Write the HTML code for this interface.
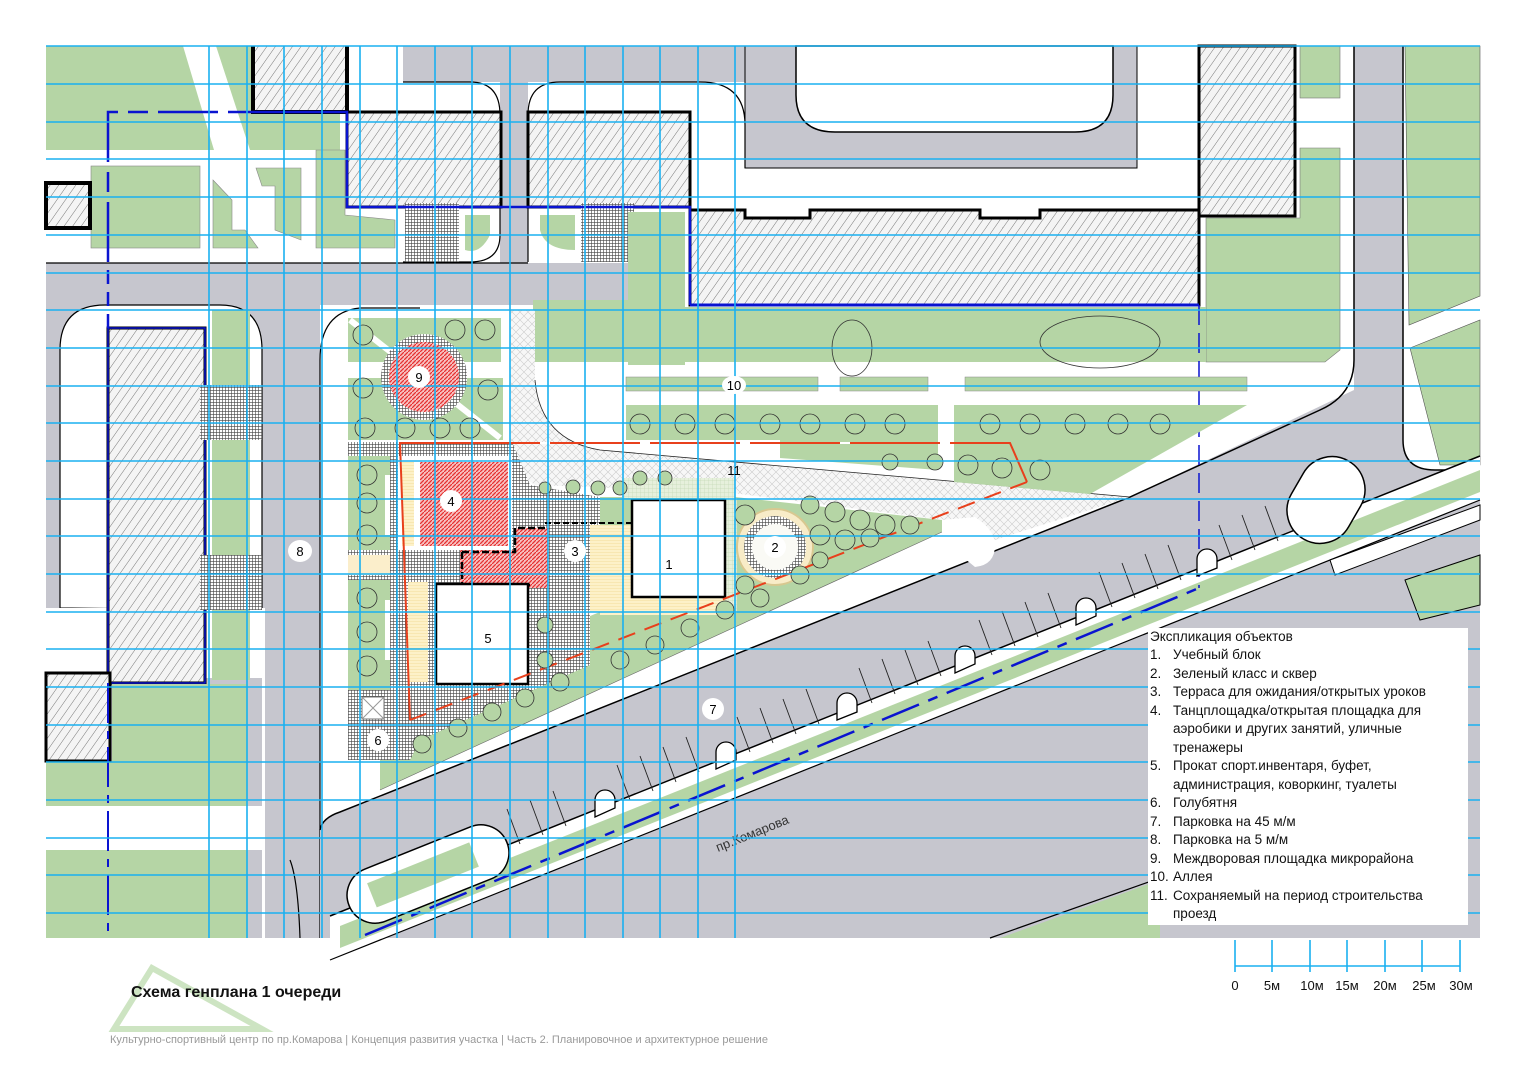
<!DOCTYPE html>
<html><head><meta charset="utf-8"><style>
html,body{margin:0;padding:0;background:#fff;width:1526px;height:1080px;overflow:hidden}
svg{display:block}
text{font-family:"Liberation Sans","DejaVu Sans",sans-serif}
</style></head><body>
<svg width="1526" height="1080" viewBox="0 0 1526 1080" xmlns="http://www.w3.org/2000/svg">
<defs>
<pattern id="hatch" width="7" height="7" patternUnits="userSpaceOnUse" patternTransform="rotate(35)">
<rect width="7" height="7" fill="#f4f4f4"/><line x1="0" y1="0" x2="0" y2="7" stroke="#777" stroke-width="1"/></pattern>
<pattern id="pave" width="3" height="3" patternUnits="userSpaceOnUse">
<rect width="3" height="3" fill="#fff"/><path d="M0 0H3M0 0V3" stroke="#444" stroke-width="1.2"/></pattern>
<pattern id="lite" width="8" height="8" patternUnits="userSpaceOnUse">
<rect width="8" height="8" fill="#f7f7f7"/><path d="M0 0L8 8M8 0L0 8" stroke="#ccc" stroke-width="0.6"/></pattern>
<pattern id="red" width="4" height="4" patternUnits="userSpaceOnUse">
<rect width="4" height="4" fill="#f7c0c0"/><path d="M0 4L4 0" stroke="#e53030" stroke-width="1.3"/></pattern>
<pattern id="yel" width="3" height="3" patternUnits="userSpaceOnUse">
<rect width="3" height="3" fill="#fdf1c8"/><path d="M0 0H3" stroke="#f0d890" stroke-width="0.8"/></pattern>
<pattern id="lgreen" width="4" height="4" patternUnits="userSpaceOnUse">
<rect width="4" height="4" fill="#e6f0dc"/><path d="M0 0H4M0 0V4" stroke="#c5dab8" stroke-width="0.7"/></pattern>
</defs>

<rect x="46" y="46" width="1434" height="892" fill="#fff"/>

<!-- ===== TOP LEFT ===== -->
<polygon points="46,46 183,46 214,150 46,150" fill="#b5d5a5"/>
<polygon points="216,46 253,46 253,112 340,112 340,150 250,150" fill="#b5d5a5"/>
<rect x="91" y="166" width="109" height="82" fill="#b5d5a5" stroke="#888" stroke-width="0.6"/>
<polygon points="213,180 232,200 232,230 245,230 258,248 213,248" fill="#b5d5a5" stroke="#888" stroke-width="0.6"/>
<polygon points="256,168 301,168 301,240 275,230 275,186 262,186" fill="#b5d5a5" stroke="#888" stroke-width="0.6"/>
<polygon points="316,150 345,150 345,215 395,220 395,248 316,248" fill="#b5d5a5" stroke="#888" stroke-width="0.6"/>
<rect x="46" y="183" width="44" height="45" fill="url(#hatch)" stroke="#000" stroke-width="4"/>
<path d="M253 46 V112 H347 V46" fill="url(#hatch)" stroke="#000" stroke-width="4"/>

<rect x="403" y="46" width="734" height="36" fill="#c6c6ce"/>
<rect x="745" y="46" width="392" height="122" fill="#c6c6ce" stroke="#000" stroke-width="1"/>
<path d="M796 46 H1113 V95 Q1113 132 1075 132 H835 Q796 132 796 95Z" fill="#fff" stroke="#000" stroke-width="1.5"/>
<rect x="500" y="82" width="28" height="182" fill="#c6c6ce"/>
<path d="M403 82 H470 Q500 82 500 115 V235 Q500 262 470 262 H403" fill="#fff" stroke="#000" stroke-width="1.2"/>
<path d="M560 82 H700 Q745 82 745 125 V168" fill="none" stroke="#000" stroke-width="1.2"/>
<path d="M528 262 V115 Q528 82 560 82" fill="none" stroke="#000" stroke-width="1.2"/>
<rect x="347" y="112" width="154" height="95" fill="url(#hatch)" stroke="#000" stroke-width="3"/>
<rect x="528" y="112" width="162" height="95" fill="url(#hatch)" stroke="#000" stroke-width="3"/>
<rect x="405" y="203" width="54" height="59" fill="url(#pave)"/>
<rect x="581" y="203" width="53" height="59" fill="url(#pave)"/>
<path d="M540 215 H575 V250 Q545 250 540 230Z" fill="#b5d5a5"/>
<path d="M465 215 H490 V235 Q480 255 465 250Z" fill="#b5d5a5"/>

<rect x="46" y="263" width="582" height="42" fill="#c6c6ce"/>
<line x1="46" y1="263" x2="528" y2="263" stroke="#000" stroke-width="1.2"/>

<rect x="1199" y="46" width="96" height="170" fill="url(#hatch)" stroke="#000" stroke-width="3"/>
<rect x="1300" y="46" width="40" height="52" fill="#b5d5a5" stroke="#777" stroke-width="0.6"/>
<polygon points="1206,218 1300,218 1300,148 1340,148 1340,350 1325,362 1206,362" fill="#b5d5a5" stroke="#777" stroke-width="0.6"/>
<polygon points="1405,46 1480,46 1480,296 1409,325" fill="#b5d5a5" stroke="#555" stroke-width="0.6"/>
<polygon points="1410,348 1480,320 1480,465 1440,465 Q1412 460 1410 430Z" fill="#b5d5a5" stroke="#555" stroke-width="0.6"/>

<polygon points="628,212 685,212 685,365 628,365" fill="#b5d5a5"/>
<polygon points="682,307 1206,307 1206,362 682,362" fill="#b5d5a5"/>
<rect x="533" y="300" width="95" height="62" fill="#b5d5a5"/>
<path d="M690 210 H745 V218 H810 V210 H980 V218 H1040 V210 H1199 V305 H690Z" fill="url(#hatch)" stroke="#000" stroke-width="3"/>
<line x1="690" y1="305" x2="1199" y2="305" stroke="#0a14d0" stroke-width="3"/>
<ellipse cx="1100" cy="342" rx="60" ry="26" fill="none" stroke="#333" stroke-width="0.8"/>
<ellipse cx="852" cy="348" rx="20" ry="28" fill="none" stroke="#333" stroke-width="0.8"/>

<!-- ===== LEFT ===== -->
<rect x="46" y="305" width="274" height="633" fill="#c6c6ce"/>
<path d="M60 608 V350 Q60 305 105 305 H220 Q262 305 262 350 V610 Z" fill="#fff" stroke="#000" stroke-width="1.2"/>
<rect x="46" y="608" width="216" height="70" fill="#fff"/>
<rect x="262" y="608" width="3" height="330" fill="#fff"/>
<rect x="212" y="310" width="38" height="370" fill="#b5d5a5"/>
<rect x="108" y="328" width="97" height="355" fill="url(#hatch)" stroke="#000" stroke-width="3"/>
<rect x="108" y="328" width="97" height="355" fill="none" stroke="#0a14d0" stroke-width="1.5"/>
<rect x="200" y="385" width="62" height="55" fill="url(#pave)"/>
<rect x="200" y="555" width="62" height="55" fill="url(#pave)"/>
<rect x="46" y="673" width="64" height="88" fill="url(#hatch)" stroke="#000" stroke-width="3"/>
<rect x="112" y="684" width="136" height="122" fill="#b5d5a5"/>
<rect x="46" y="762" width="66" height="44" fill="#b5d5a5"/>
<rect x="46" y="806" width="216" height="44" fill="#fff"/>
<rect x="46" y="850" width="202" height="88" fill="#b5d5a5"/>
<path d="M265 938 V760 Q300 800 305 860 V938Z" fill="#c6c6ce"/>
<path d="M290 860 Q298 880 300 938" fill="none" stroke="#000" stroke-width="1.2"/>
<line x1="108" y1="683" x2="108" y2="938" stroke="#0a14d0" stroke-width="2" stroke-dasharray="40,8,8,8"/>

<!-- ===== SITE WHITE & DIAGONAL ===== -->
<path d="M320 938 V360 Q320 312 360 308 H420" fill="none" stroke="#000" stroke-width="1.2"/>
<path d="M320 938 L320 830 Q322 818 340 812 L1130 497 L1354 390 V46 H1403 V440 Q1403 470 1435 470 H1480 V938 Z" fill="#c6c6ce"/>
<path d="M320 830 Q322 818 340 812 L1130 497 L1320 410 Q1354 395 1354 360 V46" fill="none" stroke="#000" stroke-width="1.5"/>
<path d="M1403 46 V440 Q1403 470 1435 470 H1480" fill="none" stroke="#000" stroke-width="1.5"/>

<polygon points="330,916 1480,456 1480,500 330,960" fill="#fff"/>
<polygon points="340,926 1480,470 1480,492 340,948" fill="#b5d5a5"/>
<line x1="330" y1="916" x2="1480" y2="456" stroke="#000" stroke-width="1.5"/>
<line x1="330" y1="960" x2="1480" y2="500" stroke="#000" stroke-width="1.2"/>
<line x1="365" y1="935" x2="1199" y2="588" stroke="#0a14d0" stroke-width="2.5" stroke-dasharray="40,10,10,10"/>
<line x1="1199" y1="305" x2="1199" y2="588" stroke="#0a14d0" stroke-width="1.5" stroke-dasharray="20,8"/>
<g transform="translate(428,874) rotate(-21.8)"><rect x="-85" y="-28" width="170" height="56" rx="28" fill="#fff" stroke="#000" stroke-width="1.5"/><rect x="-60" y="-14" width="110" height="26" fill="#b5d5a5"/></g>
<g transform="translate(1326,500) rotate(-60)"><rect x="-45" y="-33" width="90" height="66" rx="33" fill="#fff" stroke="#000" stroke-width="1.5"/></g>
<g fill="#fff" stroke="#000" stroke-width="1.3">
<path d="M595 817 V800 a10 10 0 0 1 20 0 V808Z"/>
<path d="M716 769 V752 a10 10 0 0 1 20 0 V760Z"/>
<path d="M837 720 V703 a10 10 0 0 1 20 0 V712Z"/>
<path d="M955 673 V656 a10 10 0 0 1 20 0 V664Z"/>
<path d="M1076 625 V608 a10 10 0 0 1 20 0 V616Z"/>
<path d="M1197 576 V559 a10 10 0 0 1 20 0 V568Z"/>
</g>
<g stroke="#222" stroke-width="0.9">
<line x1="520" y1="844" x2="507" y2="809"/><line x1="543" y1="835" x2="530" y2="800"/><line x1="566" y1="826" x2="553" y2="791"/>
<line x1="630" y1="800" x2="617" y2="765"/><line x1="653" y1="791" x2="640" y2="756"/><line x1="676" y1="782" x2="663" y2="747"/><line x1="699" y1="772" x2="686" y2="737"/>
<line x1="750" y1="752" x2="737" y2="717"/><line x1="773" y1="743" x2="760" y2="708"/><line x1="796" y1="734" x2="783" y2="699"/><line x1="819" y1="724" x2="806" y2="689"/>
<line x1="872" y1="703" x2="859" y2="668"/><line x1="895" y1="694" x2="882" y2="659"/><line x1="918" y1="685" x2="905" y2="650"/><line x1="941" y1="676" x2="928" y2="641"/>
<line x1="992" y1="655" x2="979" y2="620"/><line x1="1015" y1="646" x2="1002" y2="611"/><line x1="1038" y1="637" x2="1025" y2="602"/><line x1="1061" y1="628" x2="1048" y2="593"/>
<line x1="1112" y1="607" x2="1099" y2="572"/><line x1="1135" y1="598" x2="1122" y2="563"/><line x1="1158" y1="589" x2="1145" y2="554"/><line x1="1181" y1="580" x2="1168" y2="545"/>
<line x1="1232" y1="560" x2="1219" y2="525"/><line x1="1255" y1="550" x2="1242" y2="515"/><line x1="1278" y1="541" x2="1265" y2="506"/>
</g>
<text x="0" y="0" font-size="13" fill="#333" transform="translate(718,852) rotate(-22)">пр.Комарова</text>

<polygon points="1330,560 1480,505 1480,520 1335,575" fill="#fff" stroke="#000" stroke-width="1"/>
<polygon points="1405,580 1480,555 1480,605 1420,620" fill="#b5d5a5" stroke="#000" stroke-width="1"/>
<polygon points="1000,938 1160,880 1160,938" fill="#b5d5a5"/>
<line x1="990" y1="938" x2="1160" y2="878" stroke="#000" stroke-width="1.2"/>

<!-- ===== SITE ===== -->
<path d="M510 310 H535 V380 Q540 440 600 450 L1130 497 L995 540 L945 520 L725 492 L535 485 Q512 470 510 440 Z" fill="url(#lite)"/>
<path d="M535 380 Q540 440 600 450 L1130 497" fill="none" stroke="#222" stroke-width="0.8"/>
<rect x="348" y="318" width="153" height="44" fill="#b5d5a5"/>
<rect x="348" y="378" width="155" height="62" fill="#b5d5a5"/>
<line x1="350" y1="320" x2="500" y2="438" stroke="#fff" stroke-width="6"/>
<circle cx="424" cy="377" r="43" fill="url(#pave)"/>
<circle cx="424" cy="377" r="35" fill="url(#red)"/>
<rect x="626" y="377" width="192" height="14" fill="#b5d5a5" stroke="#888" stroke-width="0.5"/>
<rect x="840" y="377" width="88" height="14" fill="#b5d5a5" stroke="#888" stroke-width="0.5"/>
<rect x="965" y="377" width="282" height="14" fill="#b5d5a5" stroke="#888" stroke-width="0.5"/>
<path d="M626 405 H938 V470 L780 458 V440 H626Z" fill="#b5d5a5"/>
<polygon points="954,405 1247,405 1090,494 954,482" fill="#b5d5a5"/>
<!-- green wedge -->
<polygon points="380,790 942,532 942,520 735,497 600,497 600,612 380,700" fill="#b5d5a5"/>
<line x1="380" y1="790" x2="942" y2="532" stroke="#666" stroke-width="0.6"/>
<!-- paving -->
<polygon points="348,442 512,442 530,485 600,497 600,612 590,612 590,665 420,740 410,760 348,760" fill="url(#pave)"/>
<rect x="348" y="456" width="42" height="94" fill="#b5d5a5"/>
<rect x="348" y="580" width="42" height="110" fill="#b5d5a5"/>
<rect x="348" y="555" width="42" height="20" fill="#fbeecb"/>
<rect x="385" y="475" width="5" height="60" fill="#fff"/>
<rect x="385" y="600" width="5" height="60" fill="#fff"/>
<rect x="398" y="456" width="114" height="94" fill="#fff"/>
<rect x="420" y="462" width="88" height="84" fill="url(#red)"/>
<rect x="402" y="462" width="12" height="84" fill="url(#yel)"/>
<rect x="408" y="582" width="20" height="100" fill="url(#yel)"/>
<path d="M460 550 H515 V528 H548 V588 H460Z" fill="url(#red)"/>
<path d="M462 552 H515 V528 H545 M462 552 V585 H530" fill="none" stroke="#000" stroke-width="2.5" stroke-dasharray="7,3"/>
<rect x="590" y="525" width="42" height="87" fill="url(#yel)"/>
<rect x="600" y="597" width="125" height="18" fill="url(#yel)"/>
<path d="M545 523 H632" stroke="#000" stroke-width="2" stroke-dasharray="6,3"/>
<rect x="622" y="478" width="113" height="20" fill="url(#lgreen)"/>
<rect x="725" y="498" width="12" height="115" fill="url(#lgreen)"/>
<rect x="632" y="500" width="93" height="97" fill="#fff" stroke="#000" stroke-width="2.5"/>
<rect x="436" y="584" width="92" height="100" fill="#fff" stroke="#000" stroke-width="2.5"/>
<rect x="362" y="697" width="22" height="22" fill="#fff" stroke="#777"/>
<path d="M362 697 L384 719 M384 697 L362 719" stroke="#999"/>
<circle cx="775" cy="547" r="38" fill="#f8ecc8" stroke="#d8c890" stroke-width="2"/>
<circle cx="775" cy="547" r="31" fill="url(#pave)"/>
<circle cx="775" cy="547" r="23" fill="#fafaf5"/>
<path d="M942 520 L975 517 Q995 530 995 545 Q995 565 975 567 L942 540Z" fill="#fff"/>

<path d="M410 720 L400 443 H1010 L1027 482" fill="none" stroke="#e8401c" stroke-width="2"/>
<line x1="510" y1="443" x2="1010" y2="443" stroke="#fff" stroke-width="2" stroke-dasharray="0,30,10,60"/>
<path d="M1027 482 L410 720" fill="none" stroke="#e8401c" stroke-width="2" stroke-dasharray="18,10"/>

<g fill="#b5d5a5" stroke="#333" stroke-width="0.8">
<circle cx="363" cy="335" r="10"/><circle cx="455" cy="330" r="10"/><circle cx="485" cy="330" r="10"/>
<circle cx="363" cy="388" r="10"/><circle cx="488" cy="390" r="10"/>
<circle cx="365" cy="428" r="10"/><circle cx="405" cy="428" r="10"/><circle cx="440" cy="428" r="10"/><circle cx="470" cy="428" r="10"/>
<circle cx="367" cy="475" r="10"/><circle cx="367" cy="503" r="10"/><circle cx="367" cy="535" r="10"/>
<circle cx="367" cy="598" r="10"/><circle cx="367" cy="632" r="10"/><circle cx="367" cy="666" r="10"/>
<circle cx="640" cy="424" r="10"/><circle cx="685" cy="424" r="10"/><circle cx="725" cy="424" r="10"/><circle cx="770" cy="424" r="10"/><circle cx="810" cy="424" r="10"/><circle cx="855" cy="424" r="10"/><circle cx="895" cy="424" r="10"/>
<circle cx="990" cy="424" r="10"/><circle cx="1030" cy="424" r="10"/><circle cx="1075" cy="424" r="10"/><circle cx="1118" cy="424" r="10"/><circle cx="1160" cy="424" r="10"/>
<circle cx="890" cy="462" r="8"/><circle cx="935" cy="462" r="8"/><circle cx="968" cy="465" r="10"/><circle cx="1002" cy="468" r="10"/><circle cx="1040" cy="470" r="10"/>
<circle cx="745" cy="515" r="10"/><circle cx="810" cy="505" r="9"/><circle cx="835" cy="512" r="10"/><circle cx="860" cy="520" r="10"/><circle cx="885" cy="525" r="10"/><circle cx="910" cy="525" r="9"/>
<circle cx="820" cy="535" r="10"/><circle cx="845" cy="540" r="10"/><circle cx="870" cy="538" r="9"/>
<circle cx="745" cy="585" r="9"/><circle cx="760" cy="598" r="9"/><circle cx="800" cy="575" r="9"/><circle cx="820" cy="560" r="8"/>
<circle cx="725" cy="610" r="9"/><circle cx="690" cy="628" r="9"/><circle cx="655" cy="645" r="9"/><circle cx="620" cy="660" r="9"/>
<circle cx="560" cy="682" r="9"/><circle cx="525" cy="698" r="9"/><circle cx="492" cy="712" r="9"/><circle cx="458" cy="728" r="9"/><circle cx="422" cy="744" r="9"/>
<circle cx="545" cy="488" r="6"/><circle cx="573" cy="487" r="7"/><circle cx="598" cy="488" r="7"/><circle cx="620" cy="488" r="7"/><circle cx="640" cy="478" r="7"/><circle cx="665" cy="478" r="7"/>
<circle cx="545" cy="625" r="8"/><circle cx="545" cy="660" r="8"/>
</g>

<g fill="none" stroke="#0a14d0" stroke-width="2.5">
<path d="M108 262 V112 H248" stroke-dasharray="60,10,20,10"/>
<path d="M248 112 H347 V207 H690 V305" />
<path d="M108 328 V262" stroke-dasharray="14,8"/>
</g>

<!-- ===== GRID ===== -->
<g stroke="#1ab0f0" stroke-width="1.6">
<line x1="46" y1="46" x2="1480" y2="46"/><line x1="46" y1="84" x2="1480" y2="84"/><line x1="46" y1="122" x2="1480" y2="122"/><line x1="46" y1="159" x2="1480" y2="159"/><line x1="46" y1="197" x2="1480" y2="197"/><line x1="46" y1="235" x2="1480" y2="235"/><line x1="46" y1="273" x2="1480" y2="273"/><line x1="46" y1="310" x2="1480" y2="310"/><line x1="46" y1="348" x2="1480" y2="348"/><line x1="46" y1="386" x2="1480" y2="386"/><line x1="46" y1="423" x2="1480" y2="423"/><line x1="46" y1="461" x2="1480" y2="461"/><line x1="46" y1="499" x2="1480" y2="499"/><line x1="46" y1="536" x2="1480" y2="536"/><line x1="46" y1="574" x2="1480" y2="574"/><line x1="46" y1="612" x2="1480" y2="612"/><line x1="46" y1="649" x2="1480" y2="649"/><line x1="46" y1="687" x2="1480" y2="687"/><line x1="46" y1="725" x2="1480" y2="725"/><line x1="46" y1="762" x2="1480" y2="762"/><line x1="46" y1="800" x2="1480" y2="800"/><line x1="46" y1="838" x2="1480" y2="838"/><line x1="46" y1="875" x2="1480" y2="875"/><line x1="46" y1="913" x2="1480" y2="913"/>
<line x1="209" y1="46" x2="209" y2="938"/><line x1="247" y1="46" x2="247" y2="938"/><line x1="284" y1="46" x2="284" y2="938"/><line x1="322" y1="46" x2="322" y2="938"/><line x1="360" y1="46" x2="360" y2="938"/><line x1="397" y1="46" x2="397" y2="938"/><line x1="435" y1="46" x2="435" y2="938"/><line x1="472" y1="46" x2="472" y2="938"/><line x1="510" y1="46" x2="510" y2="938"/><line x1="548" y1="46" x2="548" y2="938"/><line x1="585" y1="46" x2="585" y2="938"/><line x1="623" y1="46" x2="623" y2="938"/><line x1="660" y1="46" x2="660" y2="938"/><line x1="698" y1="46" x2="698" y2="938"/><line x1="735" y1="46" x2="735" y2="938"/>
</g>

<g font-size="13" text-anchor="middle" fill="#000">
<ellipse cx="419" cy="377" rx="11" ry="11" fill="#fff"/><text x="419" y="382">9</text>
<ellipse cx="451" cy="501" rx="11" ry="11" fill="#fff"/><text x="451" y="506">4</text>
<ellipse cx="575" cy="551" rx="11" ry="11" fill="#fff"/><text x="575" y="556">3</text>
<text x="669" y="569">1</text>
<ellipse cx="775" cy="547" rx="11" ry="11" fill="#fff"/><text x="775" y="552">2</text>
<text x="488" y="643">5</text>
<ellipse cx="378" cy="740" rx="11" ry="11" fill="#fff"/><text x="378" y="745">6</text>
<ellipse cx="713" cy="709" rx="11" ry="11" fill="#fff"/><text x="713" y="714">7</text>
<ellipse cx="300" cy="551" rx="12" ry="11" fill="#fff"/><text x="300" y="556">8</text>
<ellipse cx="734" cy="385" rx="12" ry="9" fill="#fff"/><text x="734" y="390">10</text>
<text x="734" y="475">11</text>
</g>

<rect x="1148" y="628" width="320" height="297" fill="#fff"/>
<g font-size="13.5" fill="#111">
<text x="1150" y="641">Экспликация объектов</text>
<text x="1150" y="659">1.</text><text x="1173" y="659">Учебный блок</text>
<text x="1150" y="678">2.</text><text x="1173" y="678">Зеленый класс и сквер</text>
<text x="1150" y="696">3.</text><text x="1173" y="696">Терраса для ожидания/открытых уроков</text>
<text x="1150" y="715">4.</text><text x="1173" y="715">Танцплощадка/открытая площадка для</text>
<text x="1173" y="733">аэробики и других занятий, уличные</text>
<text x="1173" y="752">тренажеры</text>
<text x="1150" y="770">5.</text><text x="1173" y="770">Прокат спорт.инвентаря, буфет,</text>
<text x="1173" y="789">администрация, коворкинг, туалеты</text>
<text x="1150" y="807">6.</text><text x="1173" y="807">Голубятня</text>
<text x="1150" y="826">7.</text><text x="1173" y="826">Парковка на 45 м/м</text>
<text x="1150" y="844">8.</text><text x="1173" y="844">Парковка на 5 м/м</text>
<text x="1150" y="863">9.</text><text x="1173" y="863">Междворовая площадка микрорайона</text>
<text x="1150" y="881">10.</text><text x="1173" y="881">Аллея</text>
<text x="1150" y="900">11.</text><text x="1173" y="900">Сохраняемый на период строительства</text>
<text x="1173" y="918">проезд</text>
</g>

<g stroke="#1ab0f0" stroke-width="1.6">
<line x1="1235" y1="966" x2="1460" y2="966"/>
<line x1="1235" y1="940" x2="1235" y2="972"/><line x1="1272" y1="940" x2="1272" y2="972"/><line x1="1310" y1="940" x2="1310" y2="972"/><line x1="1347" y1="940" x2="1347" y2="972"/><line x1="1385" y1="940" x2="1385" y2="972"/><line x1="1422" y1="940" x2="1422" y2="972"/><line x1="1460" y1="940" x2="1460" y2="972"/>
</g>
<g font-size="13" fill="#111" text-anchor="middle">
<text x="1235" y="990">0</text><text x="1272" y="990">5м</text><text x="1312" y="990">10м</text><text x="1347" y="990">15м</text><text x="1385" y="990">20м</text><text x="1424" y="990">25м</text><text x="1461" y="990">30м</text>
</g>

<polygon points="114,1029 152,968 262,1029" fill="none" stroke="#cde4c2" stroke-width="6" stroke-linejoin="miter"/>
<text x="131" y="997" font-size="16" font-weight="bold" fill="#111">Схема генплана 1 очереди</text>
<text x="110" y="1043" font-size="11" fill="#999">Культурно-спортивный центр по пр.Комарова | Концепция развития участка | Часть 2. Планировочное и архитектурное решение</text>
</svg>
</body></html>
